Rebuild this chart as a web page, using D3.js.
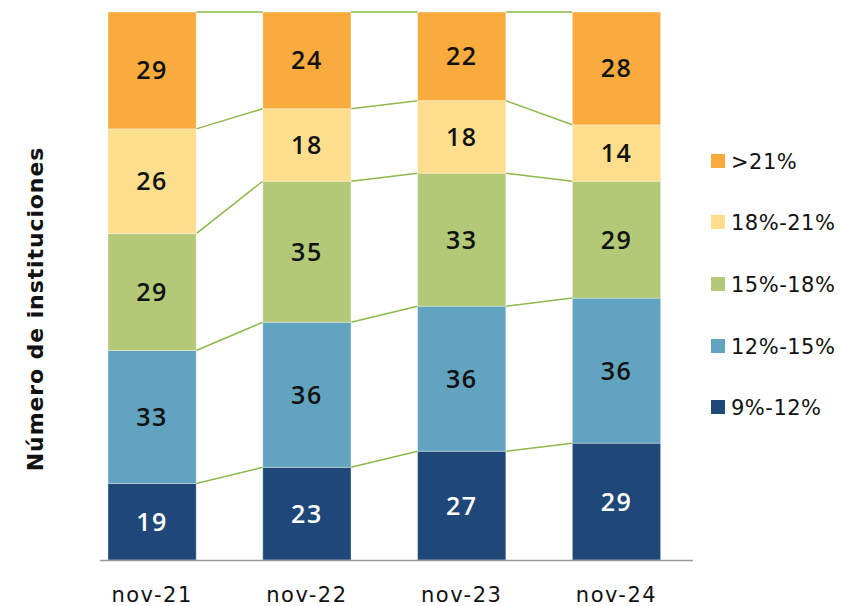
<!DOCTYPE html>
<html>
<head>
<meta charset="utf-8">
<script src="https://cdn.jsdelivr.net/npm/d3@7"></script>
<style>
  body { margin: 0; background: #fff; }
  svg { font-family: "DejaVu Sans", sans-serif; }
</style>
</head>
<body>
<div id="chart"></div>
<script>
var categories = ["nov-21", "nov-22", "nov-23", "nov-24"];
var seriesNames = ["9%-12%", "12%-15%", "15%-18%", "18%-21%", ">21%"];
var seriesColors = ["#1f4878", "#62a4c0", "#b3c977", "#fdde8d", "#f9ac3d"];
var s9_12 = [19, 23, 27, 29];
var s12_15 = [33, 36, 36, 36];
var s15_18 = [29, 35, 33, 29];
var s18_21 = [26, 18, 18, 14];
var s21 = [29, 24, 22, 28];

var width = 842, height = 606;
var values = [s9_12, s12_15, s15_18, s18_21, s21];

var rows = categories.map(function(c, i) {
  var r = {cat: c};
  seriesNames.forEach(function(s, j) { r[s] = values[j][i]; });
  return r;
});

var stacked = d3.stack().keys(seriesNames)(rows);
var total = d3.max(rows, function(r) { return d3.sum(seriesNames, function(s) { return r[s]; }); });

var x = d3.scaleBand().domain(categories).range([74.7, 693.9])
  .paddingInner(0.43).paddingOuter(0.215);
var y = d3.scaleLinear().domain([0, total]).range([560, 12]);

var svg = d3.select("#chart").append("svg")
  .attr("width", width).attr("height", height);

// connector lines between bars
var lines = svg.append("g");
stacked.forEach(function(layer) {
  for (var i = 0; i < categories.length - 1; i++) {
    lines.append("line")
      .attr("x1", x(categories[i]) + x.bandwidth())
      .attr("x2", x(categories[i + 1]))
      .attr("y1", y(layer[i][1]))
      .attr("y2", y(layer[i + 1][1]))
      .attr("stroke", "#8db84a")
      .attr("stroke-width", 1.5);
  }
});

// bars
var groups = svg.append("g").selectAll("g")
  .data(stacked).enter().append("g")
  .attr("fill", function(d, i) { return seriesColors[i]; });

groups.selectAll("rect")
  .data(function(d) { return d; })
  .enter().append("rect")
  .attr("x", function(d) { return x(d.data.cat); })
  .attr("y", function(d) { return y(d[1]); })
  .attr("width", x.bandwidth())
  .attr("height", function(d) { return y(d[0]) - y(d[1]); })
  .attr("stroke", "rgba(255,255,255,0.35)")
  .attr("stroke-width", 1);

// value labels
stacked.forEach(function(layer, j) {
  svg.append("g").selectAll("text")
    .data(layer).enter().append("text")
    .attr("x", function(d) { return x(d.data.cat) + x.bandwidth() / 2; })
    .attr("y", function(d) { return (y(d[0]) + y(d[1])) / 2; })
    .attr("dy", "0.36em")
    .attr("text-anchor", "middle")
    .attr("font-family", "Open Sans, sans-serif")
    .attr("font-size", 25)
    .attr("font-weight", 600)
    .attr("letter-spacing", 1.5)
    .attr("fill", j === 0 ? "#fff" : "#111")
    .text(function(d) { return d[1] - d[0]; });
});

// x axis
svg.append("line")
  .attr("x1", 100).attr("x2", 693)
  .attr("y1", 560.5).attr("y2", 560.5)
  .attr("stroke", "#999").attr("stroke-width", 1.5);

var xAxis = svg.append("g")
  .attr("transform", "translate(0,560)")
  .call(d3.axisBottom(x).tickSize(0).tickPadding(0));
xAxis.select(".domain").remove();
xAxis.selectAll("text")
  .attr("y", 34)
  .attr("dy", "0.36em")
  .attr("font-size", 21)
  .attr("letter-spacing", 1.5)
  .attr("font-family", "DejaVu Sans, sans-serif")
  .attr("fill", "#111");

// y title
svg.append("text")
  .attr("transform", "translate(35,309) rotate(-90)")
  .attr("text-anchor", "middle")
  .attr("dy", "0.36em")
  .attr("font-size", 22)
  .attr("font-weight", 700)
  .attr("letter-spacing", 0.9)
  .attr("fill", "#111")
  .text("Número de instituciones");

// legend
var legendY = [407, 346, 284, 222, 161];
var legend = svg.append("g").selectAll("g")
  .data(seriesNames).enter().append("g")
  .attr("transform", function(d, i) { return "translate(711," + legendY[i] + ")"; });
legend.append("rect")
  .attr("x", 0).attr("y", -7)
  .attr("width", 14).attr("height", 14)
  .attr("fill", function(d, i) { return seriesColors[i]; });
legend.append("text")
  .attr("x", 20)
  .attr("dy", "0.36em")
  .attr("font-size", 21)
  .attr("letter-spacing", 0.5)
  .attr("fill", "#111")
  .text(function(d) { return d; });
</script>
</body>
</html>
